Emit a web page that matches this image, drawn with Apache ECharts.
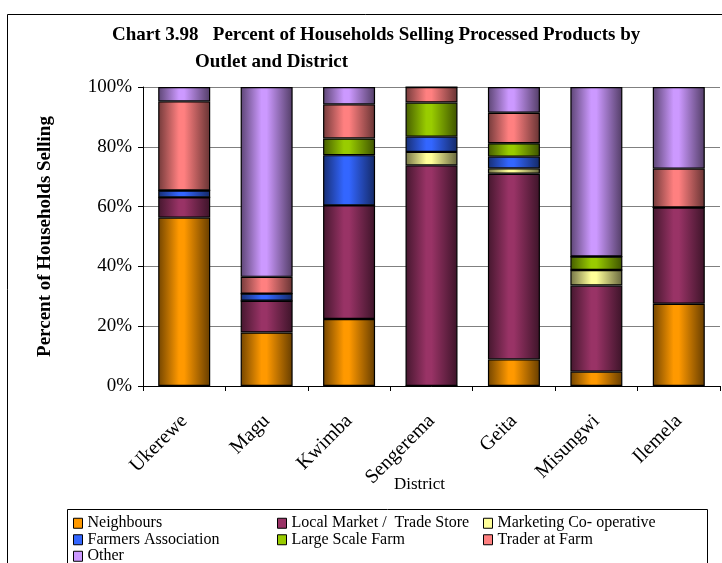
<!DOCTYPE html>
<html>
<head>
<meta charset="utf-8">
<script src="https://cdn.jsdelivr.net/npm/echarts@6/dist/echarts.min.js"></script>
<style>html,body{margin:0;padding:0;background:#fff}#c{width:722px;height:563px}</style>
</head>
<body>
<div id="c"></div>
<script>
var districts = ['Ukerewe','Magu','Kwimba','Sengerema','Geita','Misungwi','Ilemela'];
var neighbours      = [56.3, 17.9, 22.4,  0.0,  8.9,  4.8, 27.5];
var localMarket     = [ 6.8, 10.6, 38.0, 73.8, 62.1, 28.8, 32.2];
var marketingCoop   = [ 0.0,  0.0,  0.0,  4.5,  1.8,  5.2,  0.0];
var farmersAssoc    = [ 2.3,  2.4, 16.8,  5.1,  3.9,  0.0,  0.0];
var largeScaleFarm  = [ 0.0,  0.0,  5.6, 11.4,  4.5,  4.5,  0.0];
var traderAtFarm    = [29.8,  5.6, 11.4,  5.2, 10.2,  0.0, 13.0];
var other           = [ 4.8, 63.5,  5.8,  0.0,  8.6, 56.7, 27.3];
var seriesNames = ['Neighbours','Local Market /  Trade Store','Marketing Co- operative','Farmers Association','Large Scale Farm','Trader at Farm','Other'];
var seriesValues = [neighbours, localMarket, marketingCoop, farmersAssoc, largeScaleFarm, traderAtFarm, other];
var seriesColors = ['#FF9900','#993366','#FFFF99','#3366FF','#99CC00','#FF8080','#CC99FF'];
var yTicks = [0,20,40,60,80,100];

function shade(hex, f){
  var r=parseInt(hex.substr(1,2),16), g=parseInt(hex.substr(3,2),16), b=parseInt(hex.substr(5,2),16);
  return 'rgb('+Math.round(r*f)+','+Math.round(g*f)+','+Math.round(b*f)+')';
}
function grad(hex){
  return new echarts.graphic.LinearGradient(0,0,1,0,[
    {offset:0, color:shade(hex,0.45)},
    {offset:0.4, color:hex},
    {offset:0.5, color:hex},
    {offset:1, color:shade(hex,0.4)}
  ]);
}
var font = 'Liberation Serif';
var chart = echarts.init(document.getElementById('c'), null, {renderer:'canvas'});
var series = seriesNames.map(function(n,i){
  return {
    name:n, type:'bar', stack:'total', barWidth:52,
    data: seriesValues[i],
    itemStyle:{color:grad(seriesColors[i]), borderColor:'#000', borderWidth:1.2},
    emphasis:{disabled:true}
  };
});
function legendData(idx){
  return idx.map(function(i){return {name:seriesNames[i], itemStyle:{color:seriesColors[i], borderColor:'#000', borderWidth:1}};});
}
function legendAt(left, top, idx){
  return {
    orient:'vertical', left:left, top:top, itemWidth:9, itemHeight:10, itemGap:0, icon:'rect',
    textStyle:{fontFamily:font, fontSize:16, color:'#000', lineHeight:16.5}, selectedMode:false, padding:0,
    data:legendData(idx)
  };
}
chart.setOption({
  animation:false,
  title:[
    {text:'Chart 3.98   Percent of Households Selling Processed Products by', left:112, top:26,
     textStyle:{fontFamily:font, fontWeight:'bold', fontSize:19, color:'#000'}, padding:0},
    {text:'Outlet and District', left:195, top:53,
     textStyle:{fontFamily:font, fontWeight:'bold', fontSize:19, color:'#000'}, padding:0}
  ],
  grid:{left:143, top:87, right:2, bottom:177},
  xAxis:{
    type:'category', data:districts,
    name:'District', nameLocation:'middle', nameGap:90, nameMoveOverlap:false,
    nameTextStyle:{fontFamily:font, fontSize:17, color:'#000', padding:[0,24,0,0]},
    axisLine:{lineStyle:{color:'#000', width:1}},
    axisTick:{show:true, length:5, lineStyle:{color:'#000'}},
    axisLabel:{rotate:45, fontFamily:font, fontSize:20, color:'#000', margin:32}
  },
  yAxis:{
    type:'value', min:0, max:100, interval:20,
    name:'Percent of Households Selling', nameLocation:'middle', nameGap:88, nameMoveOverlap:false,
    nameTextStyle:{fontFamily:font, fontWeight:'bold', fontSize:19, color:'#000'},
    axisLine:{show:true, lineStyle:{color:'#000'}},
    axisTick:{show:true, length:5, lineStyle:{color:'#000'}},
    axisLabel:{formatter:'{value}%', fontFamily:font, fontSize:19, color:'#000', margin:11},
    splitLine:{lineStyle:{color:'#808080', width:1}}
  },
  legend:[
    legendAt(73, 515, [0,3]),
    legendAt(73, 548, [6]),
    legendAt(277, 515, [1,4]),
    legendAt(483, 515, [2,5])
  ],
  graphic:[
    {type:'rect', shape:{x:7.5, y:14.5, width:740, height:600}, style:{fill:null, stroke:'#000', lineWidth:1}, silent:true, z:-1},
    {type:'rect', shape:{x:67.5, y:509.5, width:640, height:70}, style:{fill:null, stroke:'#000', lineWidth:1}, silent:true, z:-1}
  ],
  series:series
});
</script>
</body>
</html>
